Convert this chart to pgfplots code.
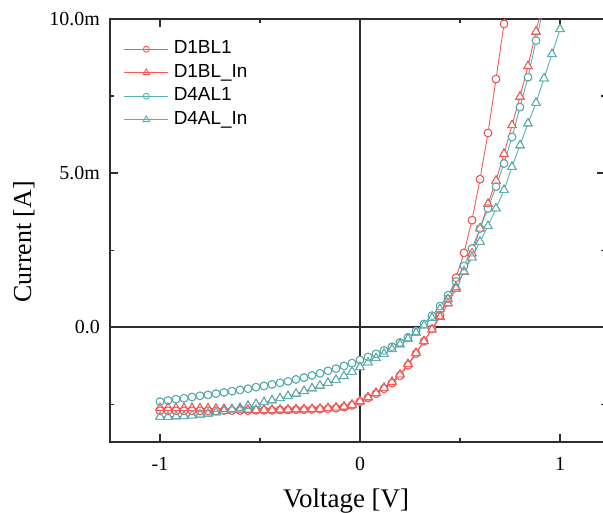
\documentclass[border=0pt]{standalone}
\usepackage{fontspec}
\setmainfont{Liberation Serif}
\newfontfamily\legfont{Liberation Sans}
\usepackage{pgfplots}
\pgfplotsset{compat=1.18}
\usepackage{pgfplotstable}
\definecolor{cred}{RGB}{255,85,85}
\definecolor{cteal}{RGB}{85,178,178}
\definecolor{axgray}{RGB}{45,45,45}

% D1BL1
\pgfplotstableread{
V I
-1.00 -2.72
-0.96 -2.72
-0.92 -2.72
-0.88 -2.72
-0.84 -2.72
-0.80 -2.72
-0.76 -2.72
-0.72 -2.72
-0.68 -2.71
-0.64 -2.71
-0.60 -2.71
-0.56 -2.71
-0.52 -2.70
-0.48 -2.70
-0.44 -2.70
-0.40 -2.69
-0.36 -2.69
-0.32 -2.68
-0.28 -2.68
-0.24 -2.67
-0.20 -2.66
-0.16 -2.65
-0.12 -2.63
-0.08 -2.60
-0.04 -2.54
0.00 -2.42
0.04 -2.30
0.08 -2.16
0.12 -2.00
0.16 -1.82
0.20 -1.58
0.24 -1.24
0.28 -0.86
0.32 -0.46
0.36 -0.06
0.40 0.38
0.44 0.92
0.48 1.60
0.52 2.41
0.56 3.47
0.60 4.80
0.64 6.30
0.68 8.05
0.72 9.84
0.76 11.80
}\dA

% D1BL_In
\pgfplotstableread{
V I
-1.00 -2.62
-0.96 -2.62
-0.92 -2.63
-0.88 -2.63
-0.84 -2.63
-0.80 -2.64
-0.76 -2.64
-0.72 -2.65
-0.68 -2.66
-0.64 -2.67
-0.60 -2.68
-0.56 -2.68
-0.52 -2.69
-0.48 -2.69
-0.44 -2.69
-0.40 -2.68
-0.36 -2.68
-0.32 -2.67
-0.28 -2.67
-0.24 -2.66
-0.20 -2.65
-0.16 -2.63
-0.12 -2.61
-0.08 -2.58
-0.04 -2.52
0.00 -2.41
0.04 -2.28
0.08 -2.14
0.12 -1.97
0.16 -1.78
0.20 -1.54
0.24 -1.20
0.28 -0.84
0.32 -0.46
0.36 -0.08
0.40 0.33
0.44 0.77
0.48 1.25
0.52 1.80
0.56 2.39
0.60 3.20
0.64 4.00
0.68 4.75
0.72 5.62
0.76 6.55
0.80 7.48
0.84 8.47
0.88 9.59
0.92 10.70
}\dB

% D4AL1
\pgfplotstableread{
V I
-1.00 -2.42
-0.96 -2.38
-0.92 -2.34
-0.88 -2.31
-0.84 -2.27
-0.80 -2.23
-0.76 -2.20
-0.72 -2.16
-0.68 -2.12
-0.64 -2.08
-0.60 -2.04
-0.56 -2.00
-0.52 -1.95
-0.48 -1.91
-0.44 -1.86
-0.40 -1.81
-0.36 -1.76
-0.32 -1.70
-0.28 -1.64
-0.24 -1.57
-0.20 -1.50
-0.16 -1.42
-0.12 -1.35
-0.08 -1.26
-0.04 -1.17
0.00 -1.07
0.04 -0.97
0.08 -0.87
0.12 -0.76
0.16 -0.64
0.20 -0.50
0.24 -0.33
0.28 -0.13
0.32 0.10
0.36 0.37
0.40 0.68
0.44 1.03
0.48 1.48
0.52 1.98
0.56 2.55
0.60 3.20
0.64 3.85
0.68 4.56
0.72 5.31
0.76 6.17
0.80 7.14
0.84 8.11
0.88 9.30
0.92 10.40
}\dC

% D4AL_In
\pgfplotstableread{
V I
-1.00 -2.91
-0.96 -2.91
-0.92 -2.90
-0.88 -2.89
-0.84 -2.87
-0.80 -2.84
-0.76 -2.81
-0.72 -2.77
-0.68 -2.72
-0.64 -2.67
-0.60 -2.62
-0.56 -2.56
-0.52 -2.50
-0.48 -2.44
-0.44 -2.38
-0.40 -2.31
-0.36 -2.24
-0.32 -2.16
-0.28 -2.08
-0.24 -1.99
-0.20 -1.90
-0.16 -1.81
-0.12 -1.71
-0.08 -1.59
-0.04 -1.45
0.00 -1.30
0.04 -1.15
0.08 -1.01
0.12 -0.87
0.16 -0.72
0.20 -0.56
0.24 -0.38
0.28 -0.18
0.32 0.05
0.36 0.30
0.40 0.58
0.44 0.90
0.48 1.30
0.52 1.80
0.56 2.26
0.60 2.77
0.64 3.28
0.68 3.85
0.72 4.45
0.76 5.20
0.80 5.90
0.84 6.61
0.88 7.28
0.92 8.07
0.96 8.86
1.00 9.67
}\dD

\begin{document}
\begin{tikzpicture}
\begin{axis}[
  name=ax,
  scale only axis,
  width=495bp, height=423bp,
  xmin=-1.25, xmax=1.225,
  ymin=-3.73, ymax=10,
  xtick={-1,0,1}, xticklabels={-1,0,1},
  minor xtick={-0.5,0.5},
  ytick={0,5,10}, yticklabels={0.0,5.0m,10.0m},
  minor ytick={-2.5,2.5,7.5},
  tick align=inside,
  major tick length=8bp, minor tick length=4.5bp,
  tick style={line width=1.1bp, color=axgray},
  axis line style={line width=1.3bp, color=axgray},
  ticklabel style={font=\fontsize{20}{24}\selectfont},
  xticklabel style={anchor=base, yshift=-28bp},
  yticklabel style={anchor=east, inner sep=0pt, xshift=-10bp},
  xlabel={Voltage [V]}, ylabel={Current [A]},
  every axis x label/.style={at={(axis description cs:0.477,-0.154)}, anchor=base,
    font=\fontsize{27}{30}\selectfont},
  every axis y label/.style={at={(axis description cs:-0.174,0.473)}, anchor=center, rotate=90,
    font=\fontsize{26}{30}\selectfont},
  legend cell align=left,
  legend style={at={(axis description cs:0.028,0.951)}, anchor=north west,
    draw=none, fill=none, inner sep=0pt, outer sep=0pt,
    font=\legfont\fontsize{19}{23}\selectfont,
    row sep=4.5bp, nodes={inner sep=0pt, text height=14bp, text depth=5bp},
    /tikz/every odd column/.append style={column sep=5bp}},
  legend image code/.code={\draw[mark repeat=2, mark phase=2]
    plot coordinates {(0bp,0bp)(22bp,0bp)(44bp,0bp)};},
]
% zero lines
\draw[line width=1.3bp, axgray] (axis cs:0,-3.73) -- (axis cs:0,10);
\draw[line width=1.3bp, axgray] (axis cs:-1.25,0) -- (axis cs:1.225,0);

% lines
\addplot[cred, line width=0.9bp, forget plot] table[x=V,y=I] {\dA};
\addplot[cred, line width=0.9bp, forget plot] table[x=V,y=I] {\dB};
\addplot[cteal, line width=0.9bp, forget plot] table[x=V,y=I] {\dC};
\addplot[cteal, line width=0.9bp, forget plot] table[x=V,y=I] {\dD};

% white insides of the symbols
\addplot[only marks, forget plot, mark=*, mark size=3.9bp, mark options={draw=none, fill=white}] table[x=V,y=I] {\dA};
\addplot[only marks, forget plot, mark=triangle*, mark size=5bp, mark options={draw=none, fill=white}] table[x=V,y=I] {\dB};
\addplot[only marks, forget plot, mark=*, mark size=3.9bp, mark options={draw=none, fill=white}] table[x=V,y=I] {\dC};
\addplot[only marks, forget plot, mark=triangle*, mark size=5bp, mark options={draw=none, fill=white}] table[x=V,y=I] {\dD};

% symbol outlines
\addplot[only marks, forget plot, cred, mark=o, mark size=3.9bp, mark options={line width=0.9bp}] table[x=V,y=I] {\dA};
\addplot[only marks, forget plot, cred, mark=triangle, mark size=5bp, mark options={line width=0.9bp}] table[x=V,y=I] {\dB};
\addplot[only marks, forget plot, cteal, mark=o, mark size=3.9bp, mark options={line width=0.9bp}] table[x=V,y=I] {\dC};
\addplot[only marks, forget plot, cteal, mark=triangle, mark size=5bp, mark options={line width=0.9bp}] table[x=V,y=I] {\dD};

\addlegendimage{cred, line width=0.9bp, mark=o, mark size=3bp, mark options={fill=white}}
\addlegendentry{D1BL1}
\addlegendimage{cred, line width=0.9bp, mark=triangle, mark size=3.8bp, mark options={fill=white}}
\addlegendentry{D1BL\_In}
\addlegendimage{cteal, line width=0.9bp, mark=o, mark size=3bp, mark options={fill=white}}
\addlegendentry{D4AL1}
\addlegendimage{cteal, line width=0.9bp, mark=triangle, mark size=3.8bp, mark options={fill=white}}
\addlegendentry{D4AL\_In}
\end{axis}
\pgfresetboundingbox
\path[use as bounding box] ([xshift=-110bp,yshift=-71bp]ax.south west) rectangle ([xshift=-2bp,yshift=19bp]ax.north east);
\end{tikzpicture}
\end{document}
